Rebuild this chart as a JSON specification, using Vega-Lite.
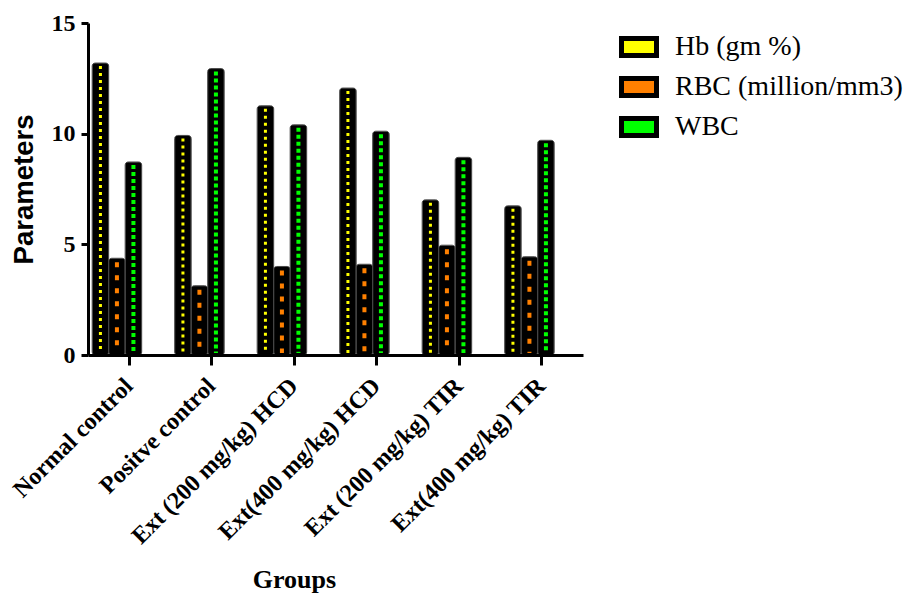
{
  "$schema": "https://vega.github.io/schema/vega-lite/v6.json",
  "width": 495,
  "height": 332,
  "autosize": "none",
  "padding": {"left": 88, "top": 23, "right": 325, "bottom": 241},
  "config": {"view": {"stroke": null}, "font": "Liberation Serif", "background": "white"},
  "data": {
    "values": [
      {"group": "Normal control", "series": "Hb (gm %)", "value": 13.19},
      {"group": "Normal control", "series": "RBC (million/mm3)", "value": 4.37},
      {"group": "Normal control", "series": "WBC", "value": 8.72},
      {"group": "Positve control", "series": "Hb (gm %)", "value": 9.92},
      {"group": "Positve control", "series": "RBC (million/mm3)", "value": 3.13},
      {"group": "Positve control", "series": "WBC", "value": 12.94},
      {"group": "Ext (200 mg/kg) HCD", "series": "Hb (gm %)", "value": 11.26},
      {"group": "Ext (200 mg/kg) HCD", "series": "RBC (million/mm3)", "value": 4.0},
      {"group": "Ext (200 mg/kg) HCD", "series": "WBC", "value": 10.4},
      {"group": "Ext(400 mg/kg) HCD", "series": "Hb (gm %)", "value": 12.06},
      {"group": "Ext(400 mg/kg) HCD", "series": "RBC (million/mm3)", "value": 4.1},
      {"group": "Ext(400 mg/kg) HCD", "series": "WBC", "value": 10.11},
      {"group": "Ext (200 mg/kg) TIR", "series": "Hb (gm %)", "value": 7.01},
      {"group": "Ext (200 mg/kg) TIR", "series": "RBC (million/mm3)", "value": 4.96},
      {"group": "Ext (200 mg/kg) TIR", "series": "WBC", "value": 8.93},
      {"group": "Ext(400 mg/kg) TIR", "series": "Hb (gm %)", "value": 6.74},
      {"group": "Ext(400 mg/kg) TIR", "series": "RBC (million/mm3)", "value": 4.44},
      {"group": "Ext(400 mg/kg) TIR", "series": "WBC", "value": 9.7}
    ]
  },
  "encoding": {
    "x": {
      "field": "group", "type": "nominal", "sort": null, "title": "Groups",
      "scale": {"paddingInner": 0, "paddingOuter": 0},
      "axis": {
        "zindex": 1, "labelAngle": -45, "labelAlign": "right", "labelBaseline": "middle",
        "labelFont": "Liberation Serif", "labelFontWeight": "bold", "labelFontSize": 24,
        "labelColor": "black", "labelPadding": 17, "labelLimit": 0, "labelOverlap": false,
        "tickSize": 10, "tickWidth": 3, "tickColor": "black",
        "domainWidth": 3, "domainColor": "black",
        "titleFont": "Liberation Serif", "titleFontSize": 26, "titleFontWeight": "bold",
        "titleColor": "black", "titleX": 206, "titleY": 232, "titleBaseline": "alphabetic", "titleAlign": "center"
      }
    },
    "xOffset": {
      "field": "series", "type": "nominal", "sort": null,
      "scale": {"domain": ["Hb (gm %)", "RBC (million/mm3)", "WBC"], "paddingInner": 0, "paddingOuter": 1.378, "align": 0.1266}
    },
    "y": {
      "field": "value", "type": "quantitative", "title": "Parameters",
      "scale": {"domain": [0, 15], "nice": false},
      "axis": {
        "zindex": 1, "values": [0, 5, 10, 15], "grid": false,
        "domainWidth": 3, "domainColor": "black", "tickWidth": 3, "tickSize": 7, "tickColor": "black",
        "labelFont": "Liberation Serif", "labelFontWeight": "bold", "labelFontSize": 24,
        "labelColor": "black", "labelPadding": 6,
        "titleFont": "Liberation Sans", "titleFontSize": 27.5, "titleFontWeight": "bold", "titleColor": "black",
        "titleX": -64, "titleY": 166, "titleAngle": 270, "titleAlign": "center", "titleBaseline": "middle"
      }
    }
  },
  "layer": [
    {
      "mark": {"type": "bar", "fill": "black", "stroke": "#444444", "strokeWidth": 1, "cornerRadius": 3}
    },
    {
      "transform": [{"filter": "datum.series === 'Hb (gm %)'"}],
      "mark": {"type": "rule", "strokeWidth": 3, "yOffset": 3, "y2Offset": -2, "stroke": "#FFFF00", "strokeDash": [3, 4]},
      "encoding": {"y2": {"datum": 0}}
    },
    {
      "transform": [{"filter": "datum.series === 'RBC (million/mm3)'"}],
      "mark": {"type": "rule", "strokeWidth": 4, "yOffset": 4, "y2Offset": -2, "stroke": "#FF8000", "strokeDash": [5, 8]},
      "encoding": {"y2": {"datum": 0}}
    },
    {
      "transform": [{"filter": "datum.series === 'WBC'"}],
      "mark": {"type": "rule", "strokeWidth": 4, "yOffset": 3, "y2Offset": -2, "stroke": "#00FF00", "strokeDash": [4, 3]},
      "encoding": {"y2": {"datum": 0}}
    },
    {
      "mark": {"type": "bar", "opacity": 0},
      "encoding": {
        "color": {
          "field": "series", "type": "nominal", "sort": null,
          "scale": {"domain": ["Hb (gm %)", "RBC (million/mm3)", "WBC"], "range": ["#FFFF00", "#FF8000", "#00FF00"]},
          "legend": {
            "orient": "none", "legendX": 531, "legendY": 4, "title": null,
            "symbolType": "M-1,-0.486H1V0.486H-1Z", "symbolSize": 1225,
            "symbolStrokeColor": "black", "symbolStrokeWidth": 5, "symbolOpacity": 1,
            "labelFont": "Liberation Serif", "labelFontSize": 28, "labelColor": "black",
            "labelOffset": 16, "rowPadding": 1, "labelLimit": 0
          }
        }
      }
    }
  ]
}
